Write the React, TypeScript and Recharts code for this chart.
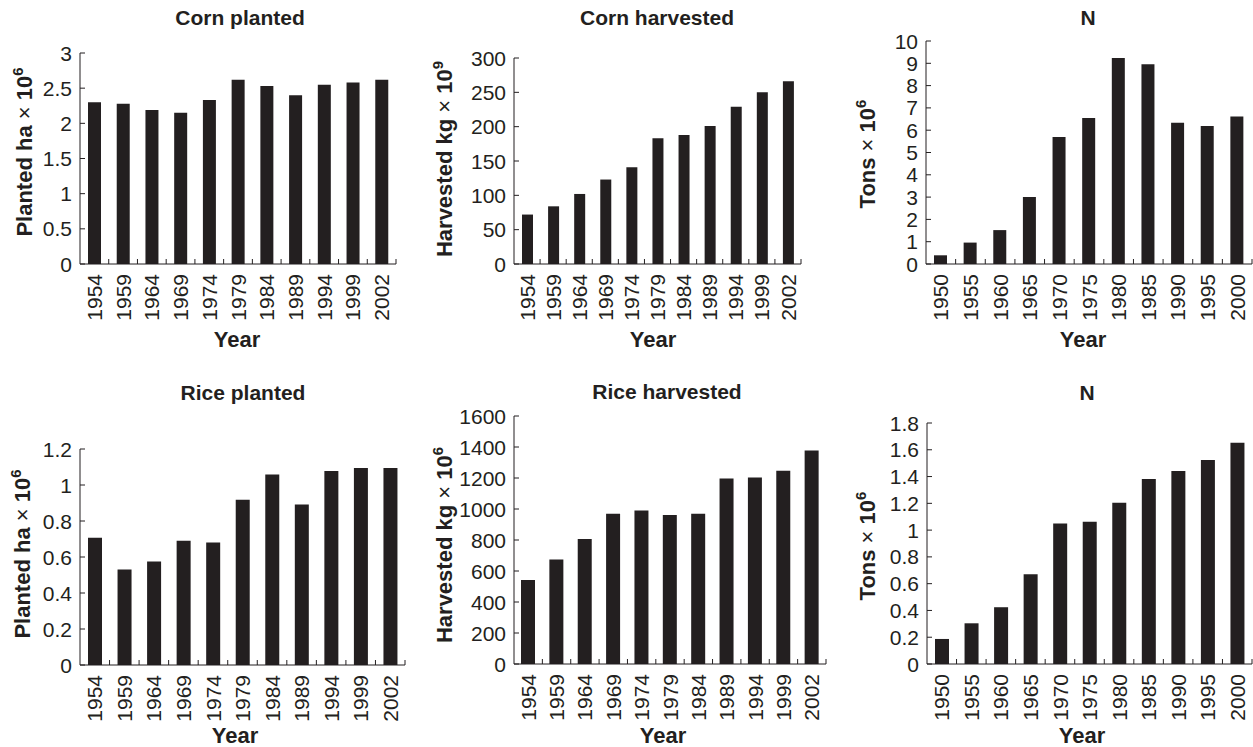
import React from "react";
import { BarChart, Bar, XAxis, YAxis } from "recharts";

const INK = "#231f20";
const FONT = "'Liberation Sans', Arial, Helvetica, sans-serif";

const cropYears = ["1954", "1959", "1964", "1969", "1974", "1979", "1984", "1989", "1994", "1999", "2002"];
const nYears = ["1950", "1955", "1960", "1965", "1970", "1975", "1980", "1985", "1990", "1995", "2000"];

const cornPlanted = [2.3, 2.28, 2.19, 2.15, 2.33, 2.62, 2.53, 2.4, 2.55, 2.58, 2.62];
const cornHarvested = [72, 84, 102, 123, 141, 183, 188, 201, 229, 250, 266];
const nTop = [0.39, 0.96, 1.52, 3.01, 5.7, 6.55, 9.24, 8.96, 6.33, 6.19, 6.61];
const ricePlanted = [0.707, 0.531, 0.575, 0.69, 0.681, 0.918, 1.059, 0.892, 1.078, 1.095, 1.095];
const riceHarvested = [542, 675, 806, 970, 991, 961, 970, 1196, 1204, 1247, 1378];
const nBottom = [0.187, 0.304, 0.424, 0.671, 1.05, 1.062, 1.204, 1.382, 1.441, 1.524, 1.653];

const cornPlantedTicks = [0, 0.5, 1, 1.5, 2, 2.5, 3];
const cornHarvestedTicks = [0, 50, 100, 150, 200, 250, 300];
const nTopTicks = [0, 1, 2, 3, 4, 5, 6, 7, 8, 9, 10];
const ricePlantedTicks = [0, 0.2, 0.4, 0.6, 0.8, 1, 1.2];
const riceHarvestedTicks = [0, 200, 400, 600, 800, 1000, 1200, 1400, 1600];
const nBottomTicks = [0, 0.2, 0.4, 0.6, 0.8, 1, 1.2, 1.4, 1.6, 1.8];

const XH = 70;
const TICK_FS = 21;

// box: [left, top, width, height]; plot: [x0, yTop, x1, y0] in page pixels
const panels = [
  { title: "Corn planted", unit: "Planted ha", exp: "6", cats: cropYears, values: cornPlanted, ticks: cornPlantedTicks,
    box: [0, 0, 420, 370], plot: [80, 53, 396, 264], barSize: 13, titleAt: [240, 17], labelAt: [25, 152], yearAt: [237, 340] },
  { title: "Corn harvested", unit: "Harvested kg", exp: "9", cats: cropYears, values: cornHarvested, ticks: cornHarvestedTicks,
    box: [420, 0, 420, 370], plot: [514, 58, 801, 264], barSize: 11, titleAt: [657, 17], labelAt: [445, 159], yearAt: [653, 340] },
  { title: "N", unit: "Tons", exp: "6", cats: nYears, values: nTop, ticks: nTopTicks,
    box: [840, 0, 413, 370], plot: [926, 41, 1252, 264], barSize: 13, titleAt: [1088, 17], labelAt: [868, 154], yearAt: [1083, 340] },
  { title: "Rice planted", unit: "Planted ha", exp: "6", cats: cropYears, values: ricePlanted, ticks: ricePlantedTicks,
    box: [0, 370, 420, 377], plot: [80, 449, 405, 665], barSize: 14, titleAt: [243, 392], labelAt: [23, 554], yearAt: [235, 736] },
  { title: "Rice harvested", unit: "Harvested kg", exp: "6", cats: cropYears, values: riceHarvested, ticks: riceHarvestedTicks,
    box: [420, 370, 420, 377], plot: [514, 416, 826, 664], barSize: 14, titleAt: [667, 391], labelAt: [445, 545], yearAt: [663, 736] },
  { title: "N", unit: "Tons", exp: "6", cats: nYears, values: nBottom, ticks: nBottomTicks,
    box: [840, 370, 413, 377], plot: [927, 423, 1252, 664], barSize: 14, titleAt: [1087, 392], labelAt: [868, 546], yearAt: [1082, 736] },
];

function Panel({ p }: { p: any }) {
  const [bx, by, bw, bh] = p.box;
  const [x0, yTop, x1, y0] = p.plot;
  const data = p.cats.map((c: string, i: number) => ({ year: c, value: p.values[i] }));
  const n = data.length;
  const band = (x1 - x0) / n;
  const X0 = x0 - bx;
  const Y0 = y0 - by;
  const max = p.ticks[p.ticks.length - 1];

  const xTick = (t: any) => {
    const ty = Y0 + 10;
    return (
      <g key={`x${t.index}`}>
        <text x={t.x} y={ty} transform={`rotate(-90 ${t.x} ${ty})`} textAnchor="end" dy="0.36em"
          fontSize={TICK_FS} fill={INK} fontFamily={FONT}>
          {t.payload.value}
        </text>
        {t.index > 0 && <line x1={t.x - band / 2} x2={t.x - band / 2} y1={Y0} y2={Y0 - 5} stroke={INK} />}
        {t.index === n - 1 && <line x1={t.x + band / 2} x2={t.x + band / 2} y1={Y0} y2={Y0 - 5} stroke={INK} />}
      </g>
    );
  };

  const yTick = (t: any) => (
    <g key={`y${t.index}`}>
      <text x={X0 - 8} y={t.y} textAnchor="end" dy="0.36em" fontSize={TICK_FS} fill={INK} fontFamily={FONT}>
        {t.payload.value}
      </text>
      <line x1={X0} x2={X0 + 5} y1={t.y} y2={t.y} stroke={INK} />
    </g>
  );

  const abs = (x: number, y: number): React.CSSProperties => ({
    position: "absolute",
    left: x - bx,
    top: y - by,
    whiteSpace: "nowrap",
    color: INK,
    fontFamily: FONT,
    fontWeight: "bold",
    lineHeight: 1,
  });

  return (
    <div style={{ position: "absolute", left: bx, top: by, width: bw, height: bh }}>
      <BarChart
        width={bw}
        height={bh}
        data={data}
        barSize={p.barSize}
        margin={{ top: yTop - by, right: bx + bw - x1, left: 0, bottom: by + bh - y0 - XH }}
      >
        <XAxis dataKey="year" height={XH} interval={0} tickLine={false} tickSize={0}
          axisLine={{ stroke: INK, strokeWidth: 1 }} tick={xTick} />
        <YAxis type="number" width={X0} domain={[0, max]} ticks={p.ticks} interval={0} allowDataOverflow
          tickLine={false} tickSize={0} axisLine={{ stroke: INK, strokeWidth: 1 }} tick={yTick} />
        <Bar dataKey="value" fill={INK} isAnimationActive={false} />
      </BarChart>
      <div style={{ ...abs(p.titleAt[0], p.titleAt[1]), transform: "translate(-50%, -50%)", fontSize: 21 }}>
        {p.title}
      </div>
      <div style={{ ...abs(p.labelAt[0], p.labelAt[1]), transform: "translate(-50%, -50%) rotate(-90deg)", fontSize: 22 }}>
        {p.unit} <span style={{ fontWeight: "normal" }}>×</span> 10
        <sup style={{ fontSize: 15, verticalAlign: "0.6em", lineHeight: 0 }}>{p.exp}</sup>
      </div>
      <div style={{ ...abs(p.yearAt[0], p.yearAt[1]), transform: "translate(-50%, -50%)", fontSize: 22 }}>Year</div>
    </div>
  );
}

export default function App() {
  return (
    <div style={{ position: "absolute", left: 0, top: 0, width: 1253, height: 747, background: "#fff", overflow: "hidden" }}>
      {panels.map((p, i) => (
        <Panel key={i} p={p} />
      ))}
    </div>
  );
}
